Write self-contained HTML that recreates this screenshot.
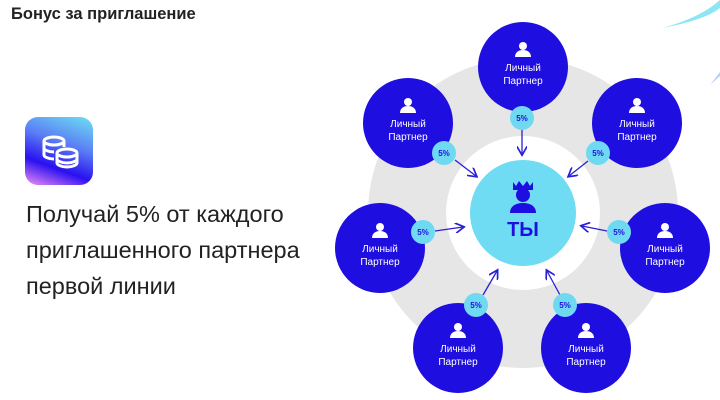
<!DOCTYPE html>
<html><head><meta charset="utf-8"><style>
body{margin:0;width:720px;height:400px;background:#fff;overflow:hidden;position:relative;font-family:"Liberation Sans","Noto Sans CJK SC",sans-serif}
.t{position:absolute;left:11px;top:5px;font-size:16.5px;font-weight:bold;color:#222}
.ic{position:absolute;left:25px;top:117px;width:68px;height:68px;border-radius:13px;background:linear-gradient(200deg,#6ee0f2 0%,#5a7cf5 40%,#2a10f0 70%,#f190f5 100%)}
.m{position:absolute;left:26px;top:196px;font-size:23.5px;line-height:36px;color:#222}
</style></head><body>
<div class="t">Бонус за приглашение</div>
<div class="ic"><svg width="68" height="68" viewBox="0 0 68 68" fill="none" stroke="#fff" stroke-width="3">
<ellipse cx="29" cy="24" rx="10" ry="4"/><path d="M19 24v14M39 24v6"/><path d="M19 31c0 2 5 4 10 4M19 38c0 2 5 4 10 4" />
<ellipse cx="42" cy="36" rx="10" ry="4"/><path d="M32 36v10c0 2 5 4 10 4s10-2 10-4V36M32 42c0 2 5 4 10 4s10-2 10-4"/></svg></div>
<div class="m">Получай 5% от каждого<br>приглашенного партнера<br>первой линии</div>
<svg width="720" height="400" style="position:absolute;left:0;top:0" font-family="Liberation Sans, sans-serif">
<defs><marker id="a" markerWidth="8" markerHeight="8" refX="6" refY="4" orient="auto"><path d="M0,0L7,4L0,8" fill="none" stroke="#2a1fd8" stroke-width="1.3"/></marker>
<g id="p"><circle r="45" fill="#1f0ee0"/><circle cy="-21" r="4" fill="#fff"/><path d="M-8,-10c0-5 4-7 8-7s8 2 8 7z" fill="#fff"/>
<text y="4" fill="#fff" font-size="10" text-anchor="middle">Личный</text><text y="17" fill="#fff" font-size="10" text-anchor="middle">Партнер</text></g>
<g id="b"><circle r="12" fill="#70d9f2"/><text y="3" fill="#1f0ee0" font-size="8" font-weight="bold" text-anchor="middle">5%</text></g></defs>
<path d="M662,28 Q700,18 720,0 L720,8 Q705,20 662,28Z" fill="#6fe0f0" opacity="0.8"/>
<path d="M710,85 L720,72 L720,76Z" fill="#9ab8f5" opacity="0.7"/>
<circle cx="523" cy="213" r="155" fill="#e6e6e6"/>
<circle cx="523" cy="213" r="77" fill="#fff"/>
<circle cx="523" cy="213" r="53" fill="#6fdcf3"/>
<path d="M513,182l3,4 3-5 4 5 4-5 3 5 3-4v8h-20z" fill="#1f0ee0"/><circle cx="523" cy="195" r="7" fill="#1f0ee0"/><path d="M510,213c0-7 6-10 13-10s13 3 13 10z" fill="#1f0ee0"/>
<text x="523" y="236" fill="#1f0ee0" font-size="20" font-weight="bold" text-anchor="middle">ТЫ</text>
<g stroke="#2a1fd8" stroke-width="1.3" marker-end="url(#a)">
<line x1="522" y1="130" x2="522" y2="154"/><line x1="455" y1="160" x2="476" y2="176"/><line x1="588" y1="161" x2="569" y2="176"/>
<line x1="435" y1="231" x2="463" y2="227"/><line x1="607" y1="231" x2="582" y2="226"/><line x1="483" y1="295" x2="497" y2="271"/><line x1="560" y1="295" x2="547" y2="271"/></g>
<use href="#p" x="523" y="67"/><use href="#p" x="408" y="123"/><use href="#p" x="637" y="123"/><use href="#p" x="380" y="248"/><use href="#p" x="665" y="248"/><use href="#p" x="458" y="348"/><use href="#p" x="586" y="348"/>
<use href="#b" x="522" y="118"/><use href="#b" x="444" y="153"/><use href="#b" x="598" y="153"/><use href="#b" x="423" y="232"/><use href="#b" x="619" y="232"/><use href="#b" x="476" y="305"/><use href="#b" x="565" y="305"/>
</svg>
</body></html>
